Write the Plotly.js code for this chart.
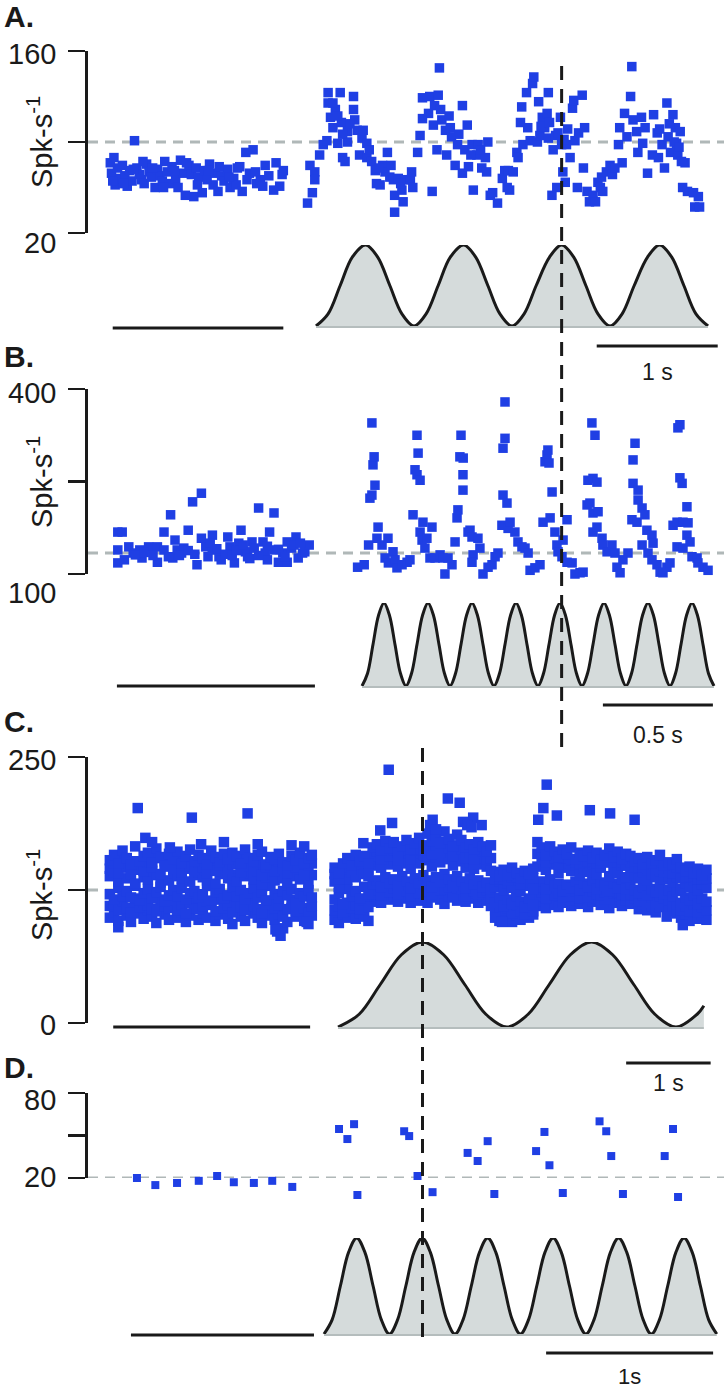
<!DOCTYPE html>
<html><head><meta charset="utf-8">
<script src="https://cdn.plot.ly/plotly-3.0.1.min.js"></script>
<style>html,body{margin:0;padding:0;background:#fff}#chart{width:724px;height:1391px}</style>
</head><body><div id="chart"></div>
<script>
// ===== DATA (time in s, rate in Spk/s) =====
// Panel A
const aLeftT=[-1.70,-1.69,-1.67,-1.66,-1.64,-1.62,-1.60,-1.58,-1.56,-1.54,
-1.52,-1.50,-1.48,-1.46,-1.44,-1.42,-1.40,-1.38,-1.36,-1.33,
-1.31,-1.29,-1.27,-1.25,-1.23,-1.21,-1.19,-1.16,-1.14,-1.12,
-1.10,-1.08,-1.05,-1.03,-1.01,-0.99,-0.97,-0.94,-0.92,-0.90,
-0.88,-0.85,-0.83,-0.81,-0.78,-0.76,-0.73,-0.71,-0.68,-0.66,
-0.63,-0.61,-0.58,-0.55,-0.52,-0.49,-0.46,-0.42,-0.35,-0.28,
-1.68,-1.59,-1.51,-1.43,-1.35,-1.26,-1.17,-1.07,-0.98,-0.89,
-0.80,-0.72,-0.65,-0.57,-0.50,-0.44,-0.39,-0.33,-0.30,-0.27];
const aLeftV=[74,66,78,57,70,62,72,64,56,68,
60,91,70,65,61,58,73,67,63,55,
69,64,60,75,67,58,71,62,55,76,
66,49,72,65,48,70,63,51,68,61,
73,57,66,52,64,60,69,55,62,57,
71,52,82,66,84,58,61,72,53,65,
60,58,69,75,70,55,68,74,57,68,
71,63,70,61,67,56,64,74,56,68];
const aRightT=[-0.07,-0.03,-0.05,-0.01,-0.01,0.03,0.06,0.09,0.10,0.10,
0.12,0.14,0.16,0.20,0.21,0.18,0.22,0.24,0.26,0.26,
0.31,0.31,0.32,0.34,0.36,0.38,0.39,0.42,0.42,0.46,
0.49,0.50,0.53,0.55,0.57,0.59,0.61,0.64,0.65,0.65,
0.68,0.71,0.72,0.74,0.78,0.79,0.80,0.84,0.86,0.88,
0.88,0.93,0.94,0.96,0.97,0.98,1.00,1.01,1.02,1.04,
1.07,1.08,1.11,1.12,1.15,1.17,1.21,1.21,1.23,1.25,
1.26,1.29,1.30,1.33,1.34,1.37,1.40,1.41,1.42,1.44,
1.46,1.50,1.54,1.56,1.58,1.59,1.60,1.63,1.66,1.67,
1.69,1.70,1.71,1.74,1.75,1.77,1.79,1.80,1.83,1.84,
1.85,1.87,1.89,1.91,1.92,1.92,1.95,1.96,1.98,1.99,
2.02,2.03,2.04,2.06,2.07,2.10,2.12,2.13,2.14,2.16,
2.17,2.20,2.21,2.22,2.24,2.26,2.29,2.31,2.33,2.35,
2.36,2.37,2.40,2.43,2.45,2.47,2.50,2.51,2.53,2.55,
2.57,2.60,2.61,2.62,2.65,2.66,2.69,2.70,2.72,2.74,
2.78,2.79,2.82,2.83,2.86,2.88,2.90,2.91,2.93,2.95,
2.97,2.98,2.99,3.01,3.02,3.05,3.03,3.07,3.12,3.13,
3.16,3.17,0.14,0.18,0.22,0.28,0.44,0.52,0.62,0.70,
1.03,1.10,1.18,1.28,1.36,1.86,1.93,2.00,2.05,2.08,
2.84,2.92,2.96,3.00];
const aRightV=[43,51,72,67,61,80,88,91,128,120,
109,101,115,128,105,89,78,75,98,90,
125,115,107,99,80,93,99,89,78,75,
68,58,57,72,67,82,63,61,49,36,
62,53,44,61,61,67,55,82,95,108,
124,112,125,52,103,118,84,126,147,107,
99,80,101,94,72,88,118,66,84,103,
71,88,53,80,88,70,78,67,90,49,
51,43,62,68,55,68,53,67,82,78,
105,117,88,128,101,91,135,140,90,121,
95,109,101,112,128,93,49,84,95,55,
109,88,67,59,88,78,116,122,91,55,
97,126,70,101,52,44,49,44,59,55,
63,52,67,72,65,70,88,101,74,112,
94,125,148,107,98,82,109,89,101,66,
80,111,97,78,88,70,120,94,82,111,
101,89,80,98,75,74,55,52,51,40,
48,40,120,110,96,104,84,70,72,58,
115,110,96,80,84,102,105,97,92,100,
100,104,90,86];
// stimulus waveform key points (one cycle = trough, rise, peak, fall), normalised 0..1
const cyc=[0,0.15,0.5,0.85,1,0.85,0.5,0.15];
const stimAT=[0,0.1,0.2,0.3,0.41,0.51,0.61,0.71,0.81,0.91,1.01,1.11,1.22,1.32,1.42,1.52,1.62,1.72,1.82,1.93,2.03,2.13,2.23,2.33,2.43,2.53,2.63,2.74,2.84,2.94,3.04,3.14,3.24];
const stimAV=[...cyc,...cyc,...cyc,...cyc,0];
const ctrlA=[-1.68,-0.27];
const baseA=90;

// Panel B
const bLeftT=[-1.11,-1.09,-1.11,-1.11,-1.06,-1.08,-1.04,-1.01,-1.00,-0.97,
-0.93,-0.93,-0.90,-0.90,-0.87,-0.86,-0.85,-0.84,-0.82,-0.81,
-0.79,-0.77,-0.75,-0.73,-0.73,-0.71,-0.70,-0.68,-0.68,-0.65,
-0.64,-0.61,-0.60,-0.58,-0.56,-0.55,-0.53,-0.52,-0.50,-0.49,
-0.47,-0.45,-0.44,-0.43,-0.42,-0.40,-0.40,-0.38,-0.36,-0.34,
-0.34,-0.32,-0.30,-0.29,-0.27,-0.26,-0.24,-1.03,-0.99,-0.95,
-0.88,-0.83,-0.79,-0.76,-0.69,-0.66,-0.62,-0.59,-0.57,-0.54,
-0.51,-0.47,-0.43,-0.38,-0.35,-0.31,-0.28];
const bLeftV=[168,168,139,118,144,123,134,139,126,144,
144,119,168,139,196,126,155,139,134,142,
171,217,115,231,158,144,128,163,139,128,
123,160,144,118,150,171,136,128,152,142,
207,152,134,123,168,139,199,119,134,152,
119,142,160,126,134,136,147,131,135,130,
128,130,138,132,150,141,132,130,138,147,
125,130,145,140,128,147,150];
const bRightT=[-0.02,0.01,0.03,0.036,0.045,0.05,0.055,0.059,0.045,0.073,
0.068,0.091,0.118,0.105,0.12,0.141,0.15,0.159,0.182,0.205,
0.218,0.232,0.241,0.25,0.255,0.25,0.264,0.264,0.273,0.277,
0.286,0.295,0.318,0.309,0.332,0.355,0.368,0.377,0.391,0.409,
0.423,0.432,0.436,0.445,0.46,0.45,0.459,0.459,0.482,0.491,
0.505,0.50,0.527,0.536,0.50,0.55,0.573,0.591,0.605,0.618,
0.636,0.641,0.659,0.641,0.65,0.65,0.664,0.673,0.695,0.709,
0.727,0.741,0.755,0.764,0.786,0.809,0.823,0.832,0.841,0.845,
0.85,0.855,0.864,0.877,0.886,0.891,0.909,0.914,0.932,0.932,
0.955,0.968,0.991,1.005,1.023,1.036,1.045,1.059,1.027,1.05,
1.068,1.05,1.073,1.05,1.068,1.091,1.095,1.114,1.136,1.15,
1.159,1.173,1.186,1.209,1.241,1.232,1.232,1.255,1.255,1.273,
1.227,1.25,1.286,1.295,1.273,1.318,1.323,1.30,1.318,1.341,
1.355,1.368,1.386,1.40,1.414,1.432,1.445,1.436,1.445,1.455,
1.477,1.459,1.482,1.477,1.491,1.432,1.459,1.50,1.523,1.527,
1.55,1.573];
const bRightV=[111,115,147,223,228,277,290,244,345,176,
158,147,158,126,118,136,123,110,115,119,
123,196,269,325,296,261,252,168,155,184,
142,158,176,126,126,131,126,100,126,115,
152,191,204,290,288,325,261,236,168,171,
131,160,158,142,119,100,111,115,128,134,
179,228,215,304,320,379,174,184,168,152,
144,142,134,106,110,115,184,282,293,301,
280,191,233,168,147,136,128,155,188,119,
118,100,102,103,212,215,345,325,252,255,
249,199,201,168,176,158,147,136,147,134,
111,102,123,134,312,285,247,236,220,207,
188,184,196,171,147,163,150,134,123,115,
103,102,111,118,179,184,342,337,256,247,
209,184,183,163,152,144,142,128,126,118,
111,106];
const stimBT=[0,0.025,0.05,0.075,0.1,0.125,0.15,0.175,0.2,0.225,0.25,0.275,0.3,0.325,0.35,0.375,0.4,0.425,0.45,0.475,
0.5,0.525,0.55,0.575,0.6,0.625,0.65,0.675,0.7,0.725,0.75,0.775,0.8,0.825,0.85,0.875,0.9,0.925,0.95,0.975,
1,1.025,1.05,1.075,1.1,1.125,1.15,1.175,1.2,1.225,1.25,1.275,1.3,1.325,1.35,1.375,1.4,1.425,1.45,1.475,
1.5,1.525,1.55,1.575,1.6];
const stimBV=[...cyc,...cyc,...cyc,...cyc,...cyc,...cyc,...cyc,...cyc,0];
const ctrlB=[-1.114,-0.214];
const baseB=134;

// Panel C (binned columns, six rate samples per bin, plus isolated points)
const cLeftT=[-2.70,-2.65,-2.60,-2.55,-2.50,-2.45,-2.40,-2.35,-2.30,-2.25,
-2.20,-2.15,-2.10,-2.05,-2.00,-1.95,-1.90,-1.85,-1.80,-1.75,
-1.70,-1.65,-1.60,-1.55,-1.50,-1.45,-1.40,-1.35,-1.30,-1.25,
-1.20,-1.15,-1.10,-1.05,-1.00,-0.95,-0.90,-0.85,-0.80,-0.75,
-0.70,-0.65,-0.60,-0.55,-0.50,-0.45,-0.40,-0.35,-0.31];
const cLeftLow=[99,104,96,108,101,95,110,103,98,106,
100,94,107,102,97,109,99,104,95,101,
108,97,103,99,111,96,102,106,98,93,
105,100,96,109,103,99,94,107,101,97,
102,89,95,108,100,104,96,93,101];
const cLeftMidA=[110,112,106,114,108,104,117,109,113,111,
107,105,116,110,108,115,106,112,103,113,
117,107,110,114,112,105,116,108,111,104,
113,109,106,117,110,107,103,112,115,108,
111,100,107,116,105,113,108,104,110];
const cLeftMid1=[121,116,127,119,124,118,129,115,122,126,
117,123,128,114,120,125,119,127,116,122,
124,118,121,129,115,123,126,117,120,128,
119,125,116,122,127,118,123,115,129,121,
117,124,120,126,113,122,119,125,118];
const cLeftMid2=[138,142,133,146,136,140,131,144,137,135,
143,139,132,147,134,141,138,136,145,133,
139,142,137,134,146,131,140,144,136,139,
133,145,138,141,135,143,130,137,140,134,
146,136,132,141,138,135,143,131,139];
const cLeftMidB=[145,150,141,154,147,144,152,148,143,151,
146,155,140,152,149,145,153,142,150,147,
144,151,146,141,155,143,148,152,145,149,
150,142,156,147,144,151,139,146,148,143,
152,145,141,150,146,153,139,148,150];
const cLeftHigh=[153,158,150,162,155,149,166,152,157,160,
151,164,156,148,159,154,161,150,157,163,
152,158,155,149,162,156,151,159,154,160,
157,150,163,155,152,158,161,149,156,154,
159,151,148,157,153,160,150,155,158];
const cLeftOutT=[-2.37,-1.73,-1.07,-0.72,-0.37,-2.28,-1.99,-2.20,-1.62,-1.35,-0.95,-0.55,-0.40,-0.68,-0.74,-2.60];
const cLeftOutV=[202,193,197,86,95,174,165,170,168,170,168,167,166,82,88,90];
const cRightT=[-0.04,0.01,0.06,0.11,0.16,0.21,0.26,0.31,0.36,0.41,
0.46,0.51,0.56,0.61,0.66,0.71,0.76,0.81,0.86,0.91,
0.96,1.01,1.06,1.11,1.16,1.21,1.26,1.31,1.36,1.41,
1.46,1.51,1.56,1.61,1.66,1.71,1.76,1.81,1.86,1.91,
1.96,2.01,2.06,2.11,2.16,2.21,2.26,2.31,2.36,2.41,
2.46,2.51,2.56,2.61,2.66,2.71,2.76,2.81,2.86,2.91,
2.96,3.01,3.06,3.11,3.16,3.21,3.26,3.31,3.36,3.41,
3.46,3.51,3.56,3.61,3.66,3.71,3.76,3.81,3.86,3.91,
3.96,4.01,4.06,4.11,4.16,4.21,4.26,4.31,4.36];
const cRightLow=[97,94,102,99,105,98,103,100,96,114,
118,113,121,116,119,114,122,117,113,120,
115,121,113,118,124,116,112,119,123,115,
120,114,117,122,113,119,115,110,100,96,
103,98,95,101,97,104,99,102,110,114,
108,116,111,109,113,118,110,115,112,119,
109,114,117,111,116,108,113,119,110,115,
112,117,107,112,106,110,104,109,113,105,
108,103,99,102,96,104,98,101,97];
const cRightMidA=[106,110,104,113,108,111,107,115,109,121,
125,120,129,123,127,121,130,124,119,128,
122,130,124,121,131,125,126,128,118,127,
126,119,128,124,121,123,125,117,106,109,
106,108,103,111,105,102,109,105,119,123,
117,126,120,122,118,124,119,124,117,125,
118,124,121,120,123,116,122,123,121,120,
121,120,114,120,113,118,113,119,117,115,
113,112,106,110,105,112,104,109,106];
const cRightMid1=[116,122,112,126,119,124,117,128,121,130,
134,128,137,131,135,129,138,133,127,136,
131,139,134,128,137,132,140,135,129,138,
133,127,136,130,134,128,132,126,113,118,
110,116,112,119,114,109,117,111,128,133,
126,135,129,131,124,130,127,133,125,131,
128,134,126,132,129,124,131,127,135,126,
130,125,122,128,120,126,123,129,121,125,
119,124,113,118,115,120,112,117,114];
const cRightMid2=[133,128,139,135,142,137,145,140,138,148,
152,146,155,149,153,147,157,150,145,154,
150,158,153,147,156,151,160,154,148,157,
152,146,151,145,149,155,147,143,128,133,
125,131,127,134,124,129,132,126,147,152,
144,153,149,141,146,150,143,148,139,145,
142,149,140,146,151,138,145,141,148,137,
144,139,136,142,134,140,137,143,135,138,
132,137,126,131,128,134,125,130,127];
const cRightMidB=[140,135,145,146,144,149,149,150,144,157,
161,154,164,157,162,153,162,162,154,162,
163,162,166,159,167,160,170,164,157,167,
163,155,160,154,160,161,154,155,135,136,
135,134,137,137,130,136,136,136,159,159,
151,160,155,149,155,155,154,151,150,151,
152,152,150,150,155,151,151,151,151,148,
151,146,146,146,145,145,145,151,142,145,
141,146,136,137,138,138,135,135,136];
const cRightHigh=[146,141,150,155,148,158,152,157,150,165,
168,162,171,164,170,160,166,172,163,169,
174,167,178,171,176,169,180,173,166,177,
172,165,168,163,170,166,161,167,142,138,
144,139,146,141,136,143,140,145,170,165,
158,166,161,156,163,159,165,154,160,157,
162,155,160,153,158,164,156,161,154,159,
157,152,155,149,156,150,153,158,148,151,
149,154,146,143,147,141,145,139,144];
const cRightOutT=[0.60,0.64,0.50,1.30,1.44,1.12,1.60,1.70,2.45,2.47,2.43,2.37,2.59,2.98,3.22,3.51,4.08,3.89,1.86,1.94,1.48,1.53,1.58,1.09,1.16,0.30];
const cRightOutV=[238,188,181,211,207,191,193,186,254,224,202,191,195,200,197,191,92,100,99,95,189,186,184,186,182,169];
const stimCT=[0,0.25,0.5,0.75,1,1.25,1.5,1.75,2,2.25,2.5,2.75,3,3.25,3.5,3.75,4,4.25,4.33];
const stimCV=[...cyc,...cyc,0,0.15,0.25];
const ctrlC=[-2.66,-0.33];
const baseC=125;

// Panel D
const dLeftT=[-1.12,-1.01,-0.88,-0.75,-0.64,-0.54,-0.42,-0.31,-0.19];
const dLeftV=[20,15,16.5,18,21.4,17,16.5,18,13.7];
const dRightT=[0.09,0.14,0.18,0.20,0.48,0.51,0.56,0.65,0.86,0.92,0.98,1.02,1.27,1.32,1.35,1.43,1.65,1.69,1.72,1.79,2.04,2.09,2.12];
const dRightV=[54.6,47.5,58,8,53,49.6,21.4,10,37.7,32,46,8.7,39,52.5,29,9.4,60,53,35.5,8.7,35.5,54.6,6.6];
const stimDT=[0,0.049,0.098,0.147,0.196,0.245,0.294,0.343,0.392,0.441,0.49,0.539,0.588,0.637,0.686,0.735,
0.784,0.833,0.882,0.931,0.98,1.029,1.078,1.127,1.176,1.225,1.274,1.323,1.372,1.421,1.47,1.519,
1.568,1.617,1.666,1.715,1.764,1.813,1.862,1.911,1.96,2.009,2.058,2.107,2.156,2.205,2.254,2.303,2.352];
const stimDV=[...cyc,...cyc,...cyc,...cyc,...cyc,...cyc,0];
const ctrlD=[-1.156,-0.06];
const baseD=20;

// Vertical reference lines (stimulus peak times) and scale bars
const peakAB=2.03;   // panel A time axis
const peakCD=1.0;    // panel C time axis
const barA=[2.32,3.32], barB=[1.095,1.595], barC=[3.41,4.41], barD=[1.33,2.33];

// ===== LAYOUT HELPERS =====
const W=724,H=1391;
const P=py=>1-py/H;
const XD=[88/W,1];
const FONT='Liberation Sans, Arial, Helvetica, sans-serif';
const BLUE='#1f3fe4';
const INK='#1a1a1a';
const xr=(origin,pps)=>[(88-origin)/pps,(W-origin)/pps];

function sc(x,y,xa,ya,size){
  return {type:'scatter',mode:'markers',x:x,y:y,xaxis:xa,yaxis:ya,cliponaxis:false,hoverinfo:'skip',
    marker:{symbol:'square',size:size,color:BLUE,line:{width:0}}};
}
function stim(x,y,xa,ya){
  return {type:'scatter',mode:'lines',x:x,y:y,xaxis:xa,yaxis:ya,cliponaxis:false,hoverinfo:'skip',
    line:{color:INK,width:3,shape:'spline',smoothing:1},fill:'tozeroy',fillcolor:'#d5dbdb'};
}
const rep=(a,n)=>{let r=[];for(let i=0;i<n;i++)r=r.concat(a);return r;};

const traces=[
  stim(stimAT,stimAV,'x','y2'),
  stim(stimBT,stimBV,'x2','y4'),
  stim(stimCT,stimCV,'x3','y6'),
  stim(stimDT,stimDV,'x4','y8'),
  sc(aLeftT,aLeftV,'x','y',9.5),
  sc(aRightT,aRightV,'x','y',9.5),
  sc(bLeftT,bLeftV,'x2','y3',9.5),
  sc(bRightT,bRightV,'x2','y3',9.5),
  sc(rep(cLeftT,6).concat(cLeftOutT),[].concat(cLeftLow,cLeftMidA,cLeftMid1,cLeftMid2,cLeftMidB,cLeftHigh,cLeftOutV),'x3','y5',10.5),
  sc(rep(cRightT,6).concat(cRightOutT),[].concat(cRightLow,cRightMidA,cRightMid1,cRightMid2,cRightMidB,cRightHigh,cRightOutV),'x3','y5',10.5),
  sc(dLeftT,dLeftV,'x4','y9',8),
  sc(dRightT,dRightV,'x4','y9',8)
];

const yAx=(top,bot,range,ticks,xa)=>({domain:[P(bot),P(top)],range:range,anchor:xa,showline:true,linewidth:2.6,linecolor:INK,
  ticks:'outside',ticklen:17,tickwidth:2.6,tickcolor:INK,tickvals:ticks,showticklabels:false,showgrid:false,zeroline:false,fixedrange:true});
const sAx=(top,bot,xa)=>({domain:[P(bot),P(top)],range:[0,1],anchor:xa,visible:false,fixedrange:true});
const xAx=(origin,pps,ya)=>({domain:XD,range:xr(origin,pps),anchor:ya,visible:false,fixedrange:true});
// invisible data axis sharing the scale of a visible axis but with a taller domain (so marks below the last tick still show)
function extAx(top,bot,range,newTop,newBot,xa){
  const k=(range[1]-range[0])/(bot-top);
  return {domain:[P(newBot),P(newTop)],range:[range[0]-(newBot-bot)*k,range[1]+(top-newTop)*k],anchor:xa,visible:false,fixedrange:true};
}

const hline=(xa,ya,y)=>({type:'line',xref:xa+' domain',x0:0,x1:1,yref:ya,y0:y,y1:y,layer:'below',line:{color:'#b0b8b8',width:3,dash:'10px,7px'}});
const pline=(xa,x0,x1,py,w,c)=>({type:'line',xref:xa,x0:x0,x1:x1,yref:'paper',y0:P(py),y1:P(py),line:{color:c||INK,width:w||3}});
const vline=(xa,x,top,bot)=>({type:'line',xref:xa,x0:x,x1:x,yref:'paper',y0:P(bot),y1:P(top),layer:'above',line:{color:INK,width:3,dash:'14px,9px'}});

const shapes=[
  hline('x','y',baseA),hline('x2','y3',baseB),hline('x3','y5',baseC),hline('x4','y7',baseD),
  pline('x',stimAT[0],stimAT[stimAT.length-1],327,2,'#b5bdbd'),
  pline('x2',stimBT[0],stimBT[stimBT.length-1],687,2,'#b5bdbd'),
  pline('x3',stimCT[0],stimCT[stimCT.length-1],1028,2,'#b5bdbd'),
  pline('x4',stimDT[0],stimDT[stimDT.length-1],1335,2,'#b5bdbd'),
  pline('x',ctrlA[0],ctrlA[1],328),pline('x2',ctrlB[0],ctrlB[1],686),
  pline('x3',ctrlC[0],ctrlC[1],1027),pline('x4',ctrlD[0],ctrlD[1],1335),
  pline('x',barA[0],barA[1],346),pline('x2',barB[0],barB[1],705),
  pline('x3',barC[0],barC[1],1063),pline('x4',barD[0],barD[1],1353),
  vline('x',peakAB,62,747),vline('x3',peakCD,747,1337)
];

const tl=(ya,y,text,shift)=>({xref:'paper',x:58/W,xanchor:'right',yref:ya,y:y,yanchor:'middle',yshift:shift,text:text,showarrow:false,font:{family:FONT,size:29,color:INK}});
const ttl=(py)=>({xref:'paper',x:40/W,xanchor:'center',yref:'paper',y:P(py),yanchor:'middle',textangle:-90,text:'Spk-s<sup>-1</sup>',showarrow:false,font:{family:FONT,size:29,color:INK}});
const plab=(py,t)=>({xref:'paper',x:2/W,xanchor:'left',yref:'paper',y:P(py),yanchor:'middle',text:'<b>'+t+'</b>',showarrow:false,font:{family:FONT,size:30,color:INK}});
const blab=(xa,x,py,t)=>({xref:xa,x:x,xanchor:'center',yref:'paper',y:P(py),yanchor:'middle',text:t,showarrow:false,font:{family:FONT,size:23,color:INK}});

const annotations=[
  plab(16,'A.'),plab(356,'B.'),plab(722,'C.'),plab(1067,'D.'),
  tl('y',160,'160',-3),tl('y',20,'20',-10),
  tl('y3',400,'400',-4),tl('y3',100,'100',-19),
  tl('y5',250,'250',-3),tl('y5',0,'0',-2),
  tl('y7',80,'80',-7),tl('y7',20,'20',1),
  ttl(142),ttl(482),ttl(895),
  blab('x',(barA[0]+barA[1])/2,372,'1 s'),
  blab('x2',(barB[0]+barB[1])/2,735,'0.5 s'),
  blab('x3',(barC[0]+barC[1])/2,1083,'1 s'),
  Object.assign(blab('x4',(barD[0]+barD[1])/2,1376,'1s'),{font:{family:FONT,size:22,color:INK}})
];

const layout={
  width:W,height:H,margin:{l:0,r:0,t:0,b:0},paper_bgcolor:'#fff',plot_bgcolor:'rgba(0,0,0,0)',
  showlegend:false,font:{family:FONT,color:INK},
  xaxis:xAx(316,121,'y'),xaxis2:xAx(362,220,'y3'),xaxis3:xAx(338,84.5,'y5'),xaxis4:xAx(324,167,'y7'),
  yaxis:yAx(51,233,[20,160],[20,90,160],'x'),
  yaxis2:sAx(245,326,'x'),
  yaxis3:yAx(389,574,[100,400],[100,250,400],'x2'),
  yaxis4:sAx(603,686,'x2'),
  yaxis5:yAx(757,1023,[0,250],[0,125,250],'x3'),
  yaxis6:sAx(942,1027,'x3'),
  yaxis7:yAx(1093,1178,[20,80],[20,50,80],'x4'),
  yaxis8:sAx(1238,1334,'x4'),
  yaxis9:extAx(1093,1178,[20,80],1080,1215,'x4'),
  shapes:shapes,annotations:annotations
};
Plotly.newPlot('chart',traces,layout,{staticPlot:true,displayModeBar:false});
</script></body></html>
